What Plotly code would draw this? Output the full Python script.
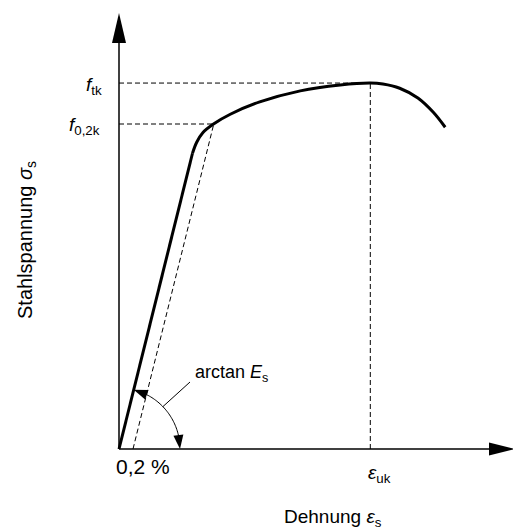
import math
import plotly.graph_objects as go

# ---- data (schematic stress-strain curve of reinforcing steel) ----
strain = [0, 10.5]                      # elastic branch, ‰
stress = [0, 455]                       # MPa
strain_plastic = [10.5, 11.1, 12.0, 13.5, 15.9, 20.1, 25.9, 31.6, 35.9, 37.7, 40.1, 42.7, 44.9, 46.6]
stress_plastic = [455, 472, 487, 500, 515, 534, 551, 560, 563, 561.5, 555, 540, 518, 495]
f_tk = 563
f_02k = 500
eps_uk = 35.9
eps_offset = 2.0
E_slope = stress[1] / strain[1]
eps_02 = eps_offset + f_02k / E_slope

# ---- pixel <-> data mapping ----
W, H = 513, 530
X0, Y0 = 119, 449          # origin in pixels
SX, SY = 7.0, 0.65         # px per unit


def dx(px):
    return (px - X0) / SX


def dy(py):
    return (Y0 - py) / SY


def tri(tip, u, L, hw):
    tx, ty = tip
    ux, uy = u
    n = math.hypot(ux, uy)
    ux, uy = ux / n, uy / n
    bx, by = tx - L * ux, ty - L * uy
    px_, py_ = -uy, ux
    pts = [(tx, ty), (bx + hw * px_, by + hw * py_), (bx - hw * px_, by - hw * py_)]
    return "M " + " L ".join(f"{dx(a):.4f},{dy(b):.4f}" for a, b in pts) + " Z"


FONT = "Liberation Sans, Arial, sans-serif"
fig = go.Figure()

dash = "5px,3px"
# dashed helper lines
fig.add_trace(go.Scatter(x=[0, eps_uk], y=[f_tk, f_tk], mode="lines",
                         line=dict(color="black", width=1, dash=dash), hoverinfo="skip"))
fig.add_trace(go.Scatter(x=[eps_uk, eps_uk], y=[0, f_tk], mode="lines",
                         line=dict(color="black", width=1, dash=dash), hoverinfo="skip"))
fig.add_trace(go.Scatter(x=[0, eps_02], y=[f_02k, f_02k], mode="lines",
                         line=dict(color="black", width=1, dash=dash), hoverinfo="skip"))
fig.add_trace(go.Scatter(x=[eps_offset, eps_02], y=[0, f_02k], mode="lines",
                         line=dict(color="black", width=1, dash=dash), hoverinfo="skip"))

# main curve
fig.add_trace(go.Scatter(x=strain, y=stress, mode="lines",
                         line=dict(color="black", width=3), hoverinfo="skip"))
fig.add_trace(go.Scatter(x=strain_plastic, y=stress_plastic, mode="lines",
                         line=dict(color="black", width=3, shape="spline", smoothing=1.0),
                         hoverinfo="skip"))

shapes = []
# axes
shapes.append(dict(type="line", xref="x", yref="y", x0=0, y0=0, x1=dx(500), y1=0,
                   line=dict(color="black", width=1.5)))
shapes.append(dict(type="line", xref="x", yref="y", x0=0, y0=0, x1=0, y1=dy(30),
                   line=dict(color="black", width=1.5)))
shapes.append(dict(type="path", xref="x", yref="y", path=tri((X0, 13), (0, -1), 30, 7),
                   fillcolor="black", line=dict(width=0)))
shapes.append(dict(type="path", xref="x", yref="y", path=tri((515, Y0), (1, 0), 26, 6.5),
                   fillcolor="black", line=dict(width=0)))

# arc for arctan E_s
R = 61
th_line = math.atan2(stress[1] * SY, strain[1] * SX)
L_head, hw_head = 14, 5
th_a = th_line
th_b = 0.0
arc_pts = []
n = 40
t0 = th_b + (L_head * 0.8) / R
t1 = th_a - (L_head * 0.8) / R
for i in range(n + 1):
    t = t0 + (t1 - t0) * i / n
    arc_pts.append((X0 + R * math.cos(t), Y0 - R * math.sin(t)))
path = "M " + " L ".join(f"{dx(a):.4f},{dy(b):.4f}" for a, b in arc_pts)
shapes.append(dict(type="path", xref="x", yref="y", path=path,
                   line=dict(color="black", width=1)))
# arrowheads on arc
tm = th_a - (L_head / 2) / R
tip = (X0 + R * math.cos(th_a), Y0 - R * math.sin(th_a))
shapes.append(dict(type="path", xref="x", yref="y",
                   path=tri(tip, (-math.sin(tm), -math.cos(tm)), L_head, hw_head),
                   fillcolor="black", line=dict(width=0)))
tm = th_b + (L_head / 2) / R
tip = (X0 + R * math.cos(th_b), Y0 - R * math.sin(th_b))
shapes.append(dict(type="path", xref="x", yref="y",
                   path=tri(tip, (math.sin(tm), math.cos(tm)), L_head, hw_head),
                   fillcolor="black", line=dict(width=0)))
# leader line
tl = math.radians(44)
shapes.append(dict(type="line", xref="x", yref="y",
                   x0=dx(X0 + R * math.cos(tl)), y0=dy(Y0 - R * math.sin(tl)),
                   x1=dx(190), y1=dy(382), line=dict(color="black", width=1)))


def ann(text, px, py, xanchor="center", yanchor="middle", angle=0, size=19):
    return dict(text=text, xref="paper", yref="paper", x=px / W, y=1 - py / H,
                xanchor=xanchor, yanchor=yanchor, showarrow=False, textangle=angle,
                font=dict(family=FONT, size=size, color="black"))


annotations = [
    ann("<i>f</i><sub>tk</sub>", 104, 86, xanchor="right"),
    ann("<i>f</i><sub>0,2k</sub>", 102, 126, xanchor="right"),
    ann("0,2 %", 143, 466, size=21),
    ann("<i>ε</i><sub>uk</sub>", 379, 474),
    ann("Dehnung <i>ε</i><sub>s</sub>", 333, 518),
    ann("arctan <i>E</i><sub>s</sub>", 193, 373, xanchor="left", size=18),
    ann("Stahlspannung <i>σ</i><sub>s</sub>", 26, 240, angle=-90, size=20),
]

fig.update_layout(
    width=W, height=H,
    margin=dict(l=0, r=0, t=0, b=0),
    paper_bgcolor="white", plot_bgcolor="white",
    showlegend=False,
    xaxis=dict(range=[dx(0), dx(W)], visible=False, fixedrange=True),
    yaxis=dict(range=[dy(H), dy(0)], visible=False, fixedrange=True),
    shapes=shapes,
    annotations=annotations,
)

fig.write_html("out.html")
